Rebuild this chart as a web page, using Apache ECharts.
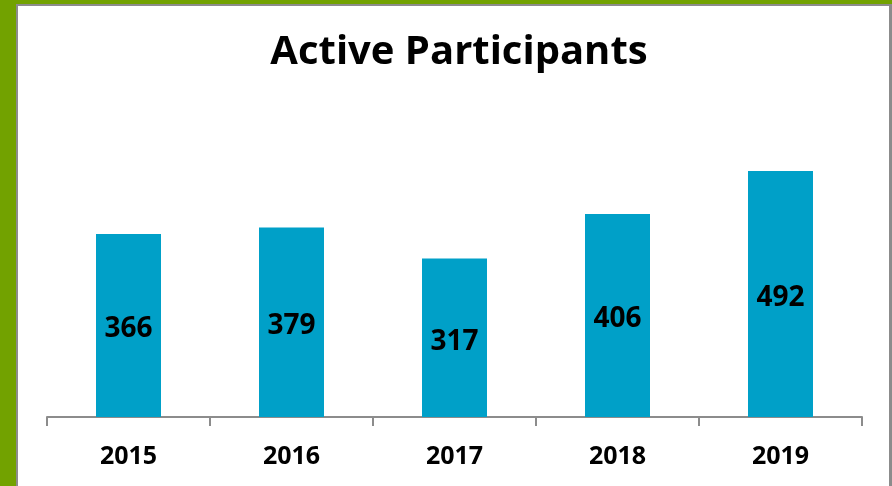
<!DOCTYPE html>
<html>
<head>
<meta charset="utf-8">
<script src="https://cdn.jsdelivr.net/npm/echarts@6/dist/echarts.min.js"></script>
<style>
html,body{margin:0;padding:0;background:#fff;}
#chart{width:892px;height:486px;}
</style>
</head>
<body>
<div id="chart"></div>
<script>
const categories = ['2015', '2016', '2017', '2018', '2019'];
const participants = [366, 379, 317, 406, 492];
const titleText = 'Active Participants';

const chart = echarts.init(document.getElementById('chart'), null, {renderer: 'canvas'});
const FONT = '"Open Sans", sans-serif';
chart.setOption({
  animation: false,
  backgroundColor: '#ffffff',
  title: {
    text: titleText,
    left: 454,
    textAlign: 'center',
    top: 28,
    textStyle: {fontFamily: FONT, fontWeight: 'bold', fontSize: 40, color: '#000'}
  },
  graphic: [
    {type: 'rect', shape: {x: 0, y: 0, width: 16, height: 486}, style: {fill: '#72A200'}, silent: true},
    {type: 'rect', shape: {x: 0, y: 0, width: 892, height: 4}, style: {fill: '#72A200'}, silent: true},
    {type: 'rect', shape: {x: 16, y: 4, width: 2, height: 482}, style: {fill: '#8C8C8C'}, silent: true},
    {type: 'rect', shape: {x: 16, y: 4, width: 876, height: 2}, style: {fill: '#8C8C8C'}, silent: true},
    {type: 'rect', shape: {x: 889, y: 4, width: 3, height: 482}, style: {fill: '#8C8C8C'}, silent: true}
  ],
  grid: {left: 47, right: 30, top: 117, bottom: 69, containLabel: false},
  xAxis: {
    type: 'category',
    data: categories,
    axisLine: {lineStyle: {color: '#8C8C8C', width: 2}},
    axisTick: {show: true, length: 9, lineStyle: {color: '#8C8C8C', width: 2}},
    axisLabel: {margin: 27, fontFamily: FONT, fontWeight: 'bold', fontSize: 25, color: '#000'}
  },
  yAxis: {type: 'value', min: 0, max: 600, show: false, splitLine: {show: false}},
  series: [{
    type: 'bar',
    data: participants,
    barWidth: 65,
    itemStyle: {color: '#00A0C8'},
    label: {
      show: true,
      position: 'inside',
      offset: [0, 4],
      fontFamily: FONT,
      fontWeight: 'bold',
      fontSize: 28,
      color: '#000'
    }
  }]
});
</script>
</body>
</html>
